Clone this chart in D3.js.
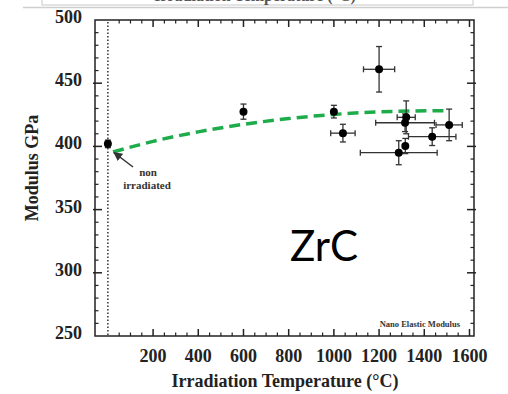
<!DOCTYPE html>
<html>
<head>
<meta charset="utf-8">
<script src="https://cdn.jsdelivr.net/npm/d3@7"></script>
<style>
    body { margin: 0; background: #fff; }
    svg { display: block; }
</style>
</head>
<body>
<div id="chart"></div>
<script>
// measured points (irradiation temperature in C, modulus in GPa)
const tempC = [0, 600, 1000, 1040, 1200, 1320, 1315, 1316, 1287, 1435, 1510];
const modulusGPa = [402, 427.5, 427.5, 410.5, 461, 423, 418.7, 400.3, 395, 407.7, 417];
const tempErr = [0, 0, 0, 54, 69, 40, 130, 0, 170, 105, 58];
const modulusErr = [3, 6, 5, 7, 18, 13, 7, 6, 9.5, 7, 12.5];

// green dashed trend line
const fitTemp = [23, 200, 400, 600, 800, 1000, 1200, 1506];
const fitModulus = [395.6, 404, 411.5, 417.5, 422, 425.3, 427.3, 428.3];

const xTickLabels = [200, 400, 600, 800, 1000, 1200, 1400, 1600];
const yTickLabels = [250, 300, 350, 400, 450, 500];

const width = 508, height = 394;
const frame = { left: 95, right: 474, top: 20, bottom: 336 };

let svg = d3.select("#chart")
    .append("svg")
    .attr("width", width)
    .attr("height", height);

// bit of the panel above, cut off by the crop
svg.append("rect")
    .attr("x", 42).attr("y", -20)
    .attr("width", 431).attr("height", 25)
    .attr("fill", "none")
    .attr("stroke", "#c8c8c8");
svg.append("text")
    .attr("x", 255).attr("y", 1)
    .attr("text-anchor", "middle")
    .style("font", "bold 16px 'Liberation Serif'")
    .attr("fill", "#555")
    .text("Irradiation Temperature (°C)");
svg.append("line")
    .attr("x1", 23).attr("x2", 508)
    .attr("y1", 7.5).attr("y2", 7.5)
    .attr("stroke", "#cfcfcf")
    .attr("stroke-width", 1.5);

let x = d3.scaleLinear()
    .domain([-57, 1620])
    .range([frame.left, frame.right]);
let y = d3.scaleLinear()
    .domain([250, 500])
    .range([frame.bottom, frame.top]);

const axisColor = "#222";

// frame
svg.append("rect")
    .attr("x", frame.left).attr("y", frame.top)
    .attr("width", frame.right - frame.left)
    .attr("height", frame.bottom - frame.top)
    .attr("fill", "none")
    .attr("stroke", axisColor)
    .attr("stroke-width", 1.5);

// ticks drawn inward on all four sides
let xMinor = d3.range(50, 1601, 50).filter(function (d) { return d % 200 != 0; });
let yMinor = d3.range(260, 500, 10).filter(function (d) { return d % 50 != 0; });

function drawTicks(values, len, isMajor) {
    values.forEach(function (v) {
        let px = x(v);
        svg.append("line").attr("x1", px).attr("x2", px)
            .attr("y1", frame.bottom).attr("y2", frame.bottom - len)
            .attr("stroke", axisColor).attr("stroke-width", isMajor ? 1.5 : 1.2);
        svg.append("line").attr("x1", px).attr("x2", px)
            .attr("y1", frame.top).attr("y2", frame.top + len)
            .attr("stroke", axisColor).attr("stroke-width", isMajor ? 1.5 : 1.2);
    });
}
drawTicks(xTickLabels, 7, true);
drawTicks(xMinor, 3.5, false);

function drawYTicks(values, len, isMajor) {
    values.forEach(function (v) {
        let py = y(v);
        svg.append("line").attr("x1", frame.left - (isMajor ? 2 : 0)).attr("x2", frame.left + len)
            .attr("y1", py).attr("y2", py)
            .attr("stroke", axisColor).attr("stroke-width", isMajor ? 1.5 : 1.2);
        svg.append("line").attr("x1", frame.right + (isMajor ? 2 : 0)).attr("x2", frame.right - len)
            .attr("y1", py).attr("y2", py)
            .attr("stroke", axisColor).attr("stroke-width", isMajor ? 1.5 : 1.2);
    });
}
drawYTicks(yTickLabels.slice(1, -1), 7, true);
drawYTicks(yMinor, 3.5, false);

// tick labels
svg.append("g").selectAll("text")
    .data(xTickLabels)
    .enter()
    .append("text")
    .attr("x", function (d) { return x(d); })
    .attr("y", 362)
    .attr("text-anchor", "middle")
    .style("font", "bold 18px 'Liberation Serif'")
    .attr("fill", "#222")
    .text(function (d) { return d; });

svg.append("g").selectAll("text")
    .data(yTickLabels)
    .enter()
    .append("text")
    .attr("x", 82)
    .attr("y", function (d) { return y(d) + 3; })
    .attr("text-anchor", "end")
    .style("font", "bold 18px 'Liberation Serif'")
    .attr("fill", "#222")
    .text(function (d) { return d; });

// axis titles
svg.append("text")
    .attr("x", 285).attr("y", 387)
    .attr("text-anchor", "middle")
    .style("font", "bold 18px 'Liberation Serif'")
    .attr("fill", "#222")
    .text("Irradiation Temperature (°C)");
svg.append("text")
    .attr("transform", "translate(38,168) rotate(-90)")
    .attr("text-anchor", "middle")
    .style("font", "bold 18px 'Liberation Serif'")
    .attr("fill", "#222")
    .text("Modulus GPa");

// dotted line at the unirradiated reference
svg.append("line")
    .attr("x1", x(0)).attr("x2", x(0))
    .attr("y1", frame.top + 2).attr("y2", frame.bottom)
    .attr("stroke", "#333")
    .attr("stroke-width", 1.5)
    .attr("stroke-dasharray", "1.5,2");

// trend line
let fitData = fitTemp.map(function (t, i) { return [t, fitModulus[i]]; });
svg.append("path")
    .datum(fitData)
    .attr("fill", "none")
    .attr("stroke", "#1eac4b")
    .attr("stroke-width", 3.5)
    .attr("stroke-dasharray", "11,6")
    .attr("d", d3.line()
        .x(function (d) { return x(d[0]) })
        .y(function (d) { return y(d[1]) })
        .curve(d3.curveMonotoneX));

// error bars and points
let points = tempC.map(function (t, i) {
    return { t: t, m: modulusGPa[i], dt: tempErr[i], dm: modulusErr[i] };
});
let errColor = "#333";
let cap = 3;
let bars = svg.append("g");
points.forEach(function (d) {
    if (d.dm > 0) {
        bars.append("line")
            .attr("x1", x(d.t)).attr("x2", x(d.t))
            .attr("y1", y(d.m - d.dm)).attr("y2", y(d.m + d.dm));
        [d.m - d.dm, d.m + d.dm].forEach(function (v) {
            bars.append("line")
                .attr("x1", x(d.t) - cap).attr("x2", x(d.t) + cap)
                .attr("y1", y(v)).attr("y2", y(v));
        });
    }
    if (d.dt > 0) {
        bars.append("line")
            .attr("x1", x(d.t - d.dt)).attr("x2", x(d.t + d.dt))
            .attr("y1", y(d.m)).attr("y2", y(d.m));
        [d.t - d.dt, d.t + d.dt].forEach(function (v) {
            bars.append("line")
                .attr("x1", x(v)).attr("x2", x(v))
                .attr("y1", y(d.m) - cap).attr("y2", y(d.m) + cap);
        });
    }
});
bars.selectAll("line")
    .attr("stroke", errColor)
    .attr("stroke-width", 1.3);

svg.append("g").selectAll("circle")
    .data(points)
    .enter()
    .append("circle")
    .attr("cx", function (d) { return x(d.t); })
    .attr("cy", function (d) { return y(d.m); })
    .attr("r", 4)
    .attr("fill", "#000");

// "non irradiated" note with arrow
svg.append("defs").append("marker")
    .attr("id", "arrowhead")
    .attr("viewBox", "0 0 10 10")
    .attr("refX", 9).attr("refY", 5)
    .attr("markerWidth", 6).attr("markerHeight", 6)
    .attr("orient", "auto")
    .append("path")
    .attr("d", "M0,0 L10,5 L0,10 Z")
    .attr("fill", "#333");
svg.append("line")
    .attr("x1", 133).attr("y1", 167)
    .attr("x2", 114).attr("y2", 152.5)
    .attr("stroke", "#333")
    .attr("stroke-width", 1.5)
    .attr("marker-end", "url(#arrowhead)");
svg.append("text")
    .attr("x", 148).attr("y", 176)
    .attr("text-anchor", "middle")
    .style("font", "bold 11px 'Liberation Serif'")
    .attr("fill", "#333")
    .text("non");
svg.append("text")
    .attr("x", 147).attr("y", 189)
    .attr("text-anchor", "middle")
    .style("font", "bold 11px 'Liberation Serif'")
    .attr("fill", "#333")
    .text("irradiated");

// material label and panel note
svg.append("text")
    .attr("x", 290).attr("y", 261)
    .style("font", "42px Lato")
    .attr("fill", "#000")
    .text("ZrC");
svg.append("text")
    .attr("x", 460).attr("y", 327)
    .attr("text-anchor", "end")
    .style("font", "bold 8.5px 'Liberation Serif'")
    .attr("fill", "#333")
    .text("Nano Elastic Modulus");
</script>
</body>
</html>
